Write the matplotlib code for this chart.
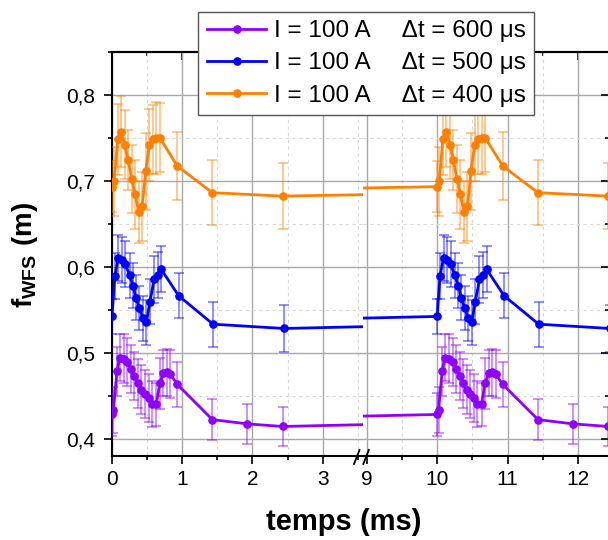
import numpy as np
import matplotlib
matplotlib.use('Agg')
import matplotlib.pyplot as plt
from matplotlib.lines import Line2D
from matplotlib.ticker import MultipleLocator, FuncFormatter

plt.rcParams['font.family'] = ['Liberation Sans', 'DejaVu Sans']
plt.rcParams['mathtext.fontset'] = 'custom'
plt.rcParams['mathtext.rm'] = 'Liberation Sans'
plt.rcParams['mathtext.bf'] = 'Liberation Sans:bold'

# temps (ms) et focale f_WFS (m), deux impulsions (0 ms et 10 ms)
t_600 = [0, 0.02, 0.07, 0.11, 0.17, 0.22, 0.27, 0.32, 0.37, 0.42, 0.47,
         0.52, 0.57, 0.63, 0.68, 0.73, 0.78, 0.83, 0.93, 1.43, 1.93, 2.43,
         10.0, 10.02, 10.07, 10.11, 10.17, 10.22, 10.27, 10.32, 10.37, 10.42, 10.47,
         10.52, 10.57, 10.63, 10.68, 10.73, 10.78, 10.83, 10.93, 11.43, 11.93, 12.43]
f_600 = [0.428, 0.433, 0.478, 0.494, 0.493, 0.489, 0.481, 0.473, 0.464, 0.457, 0.452,
         0.447, 0.440, 0.440, 0.464, 0.476, 0.477, 0.475, 0.463, 0.422, 0.417, 0.414,
         0.428, 0.433, 0.478, 0.494, 0.493, 0.489, 0.481, 0.473, 0.464, 0.457, 0.452,
         0.447, 0.440, 0.440, 0.464, 0.476, 0.477, 0.475, 0.463, 0.422, 0.417, 0.414]
e_600 = [0.025, 0.027, 0.028, 0.027, 0.028, 0.028, 0.028, 0.028, 0.028, 0.028, 0.028,
         0.028, 0.027, 0.025, 0.03, 0.027, 0.027, 0.028, 0.026, 0.024, 0.023, 0.023,
         0.025, 0.027, 0.028, 0.027, 0.028, 0.028, 0.028, 0.028, 0.028, 0.028, 0.028,
         0.028, 0.027, 0.025, 0.03, 0.027, 0.027, 0.028, 0.026, 0.024, 0.023, 0.023]

t_500 = [0, 0.04, 0.09, 0.14, 0.19, 0.25, 0.30, 0.34, 0.39, 0.44, 0.49,
         0.54, 0.60, 0.65, 0.70, 0.95, 1.44, 2.45,
         10.0, 10.04, 10.09, 10.14, 10.19, 10.25, 10.30, 10.34, 10.39, 10.44, 10.49,
         10.54, 10.60, 10.65, 10.70, 10.95, 11.44, 12.45]
f_500 = [0.542, 0.589, 0.610, 0.608, 0.603, 0.590, 0.578, 0.564, 0.552, 0.540, 0.535,
         0.559, 0.585, 0.590, 0.597, 0.566, 0.533, 0.528,
         0.542, 0.589, 0.610, 0.608, 0.603, 0.590, 0.578, 0.564, 0.552, 0.540, 0.535,
         0.559, 0.585, 0.590, 0.597, 0.566, 0.533, 0.528]
e_500 = [0.02, 0.027, 0.027, 0.027, 0.027, 0.026, 0.026, 0.026, 0.026, 0.026, 0.026,
         0.026, 0.027, 0.027, 0.027, 0.026, 0.026, 0.027,
         0.02, 0.027, 0.027, 0.027, 0.027, 0.026, 0.026, 0.026, 0.026, 0.026, 0.026,
         0.026, 0.027, 0.027, 0.027, 0.026, 0.026, 0.027]

t_400 = [0, 0.03, 0.08, 0.13, 0.18, 0.23, 0.28, 0.33, 0.38, 0.43, 0.48,
         0.53, 0.58, 0.63, 0.68, 0.93, 1.43, 2.43,
         10.0, 10.03, 10.08, 10.13, 10.18, 10.23, 10.28, 10.33, 10.38, 10.43, 10.48,
         10.53, 10.58, 10.63, 10.68, 10.93, 11.43, 12.43]
f_400 = [0.693, 0.699, 0.748, 0.757, 0.742, 0.724, 0.702, 0.684, 0.663, 0.670, 0.711,
         0.741, 0.748, 0.750, 0.750, 0.717, 0.686, 0.682,
         0.693, 0.699, 0.748, 0.757, 0.742, 0.724, 0.702, 0.684, 0.663, 0.670, 0.711,
         0.741, 0.748, 0.750, 0.750, 0.717, 0.686, 0.682]
e_400 = [0.03, 0.04, 0.041, 0.041, 0.04, 0.035, 0.04, 0.04, 0.036, 0.04, 0.045,
         0.042, 0.04, 0.042, 0.04, 0.04, 0.038, 0.038,
         0.03, 0.04, 0.041, 0.041, 0.04, 0.035, 0.04, 0.04, 0.036, 0.04, 0.045,
         0.042, 0.04, 0.042, 0.04, 0.04, 0.038, 0.038]

labels = ['I = 100 A     \u0394t = 600 \u03bcs',
          'I = 100 A     \u0394t = 500 \u03bcs',
          'I = 100 A     \u0394t = 400 \u03bcs']
colors = ['#8f00ff', '#0000ff', '#ff8000']

series = [(t_600, f_600, e_600), (t_500, f_500, e_500), (t_400, f_400, e_400)]

W, H = 608, 540
fig = plt.figure(figsize=(6.08, 5.4), dpi=100)

bot = 1 - 455.7 / H
hgt = (455.7 - 51.7) / H
ax1 = fig.add_axes([112 / W, bot, (363 - 112) / W, hgt])
ax2 = fig.add_axes([363 / W, bot, 0.405, hgt])

ax1.set_xlim(0, 251 / 70.2)
ax2.set_xlim(8.948, 8.948 + 0.405 * W / 70.5)

comma = FuncFormatter(lambda v, p: f'{v:.1f}'.replace('.', ','))

for ax in (ax1, ax2):
    for (t, f, e), c in zip(series, colors):
        ax.errorbar(t, f, yerr=e, color=c, marker='o', ms=5.2, lw=2.0,
                    ecolor=(c, 0.55), elinewidth=1.1, capsize=3.5, capthick=1.1,
                    zorder=3)
    ax.set_ylim(0.38, 0.85)
    ax.xaxis.set_major_locator(MultipleLocator(1))
    ax.xaxis.set_minor_locator(MultipleLocator(0.5))
    ax.yaxis.set_major_locator(MultipleLocator(0.1))
    ax.yaxis.set_minor_locator(MultipleLocator(0.05))
    ax.grid(True, which='major', color='#a8a8a8', lw=1.0)
    ax.grid(True, which='minor', color='#d8d8d8', lw=0.8, ls=(0, (3, 3)))
    ax.set_axisbelow(True)
    ax.tick_params(axis='x', which='major', direction='out', length=6, width=1.2,
                   labelsize=15, pad=4)
    ax.tick_params(axis='x', which='minor', direction='out', length=3, width=1.2)
    for s in ax.spines.values():
        s.set_linewidth(1.5)
    top = ax.secondary_xaxis('top')
    top.xaxis.set_major_locator(MultipleLocator(1))
    top.xaxis.set_minor_locator(MultipleLocator(0.5))
    top.tick_params(which='major', direction='in', length=6, width=1.2, labeltop=False)
    top.tick_params(which='minor', direction='in', length=3, width=1.2)
    top.spines['top'].set_linewidth(1.5)

ax1.spines['right'].set_visible(False)
ax2.spines['left'].set_visible(False)
ax1.yaxis.set_major_formatter(comma)
ax1.tick_params(axis='y', which='major', direction='out', length=6, width=1.2,
                labelsize=15, pad=6)
ax1.tick_params(axis='y', which='minor', direction='out', length=3, width=1.2)
ax2.yaxis.tick_right()
ax2.tick_params(axis='y', which='major', direction='in', length=6, width=1.2,
                labelright=False)
ax2.tick_params(axis='y', which='minor', direction='in', length=3, width=1.2)

# marque de coupure de l'axe
for x0 in (354, 363.3):
    fig.add_artist(Line2D([x0 / W, (x0 + 5.5) / W], [1 - 464 / H, 1 - 450 / H],
                          color='black', lw=1.3))

fig.text(344 / W, 1 - 522 / H, 'temps (ms)', ha='center', va='center',
         fontsize=21, fontweight='bold')
fig.text(25 / W, 1 - 255 / H, r'$\mathbf{f_{WFS}\ (m)}$', ha='center', va='center',
         rotation=90, fontsize=20)

handles = [Line2D([], [], color=c, marker='o', ms=5.2, lw=2.0) for c in colors]
leg = fig.legend(handles, labels, loc='upper right', bbox_to_anchor=(534 / W, 1 - 11.7 / H),
                 fontsize=17.5, handlelength=2.45, handletextpad=0.3, labelspacing=0.42,
                 borderpad=0.35, borderaxespad=0, fancybox=False, framealpha=1,
                 edgecolor='#555555')
leg.get_frame().set_linewidth(1.0)

fig.savefig('out.png', dpi=100)
